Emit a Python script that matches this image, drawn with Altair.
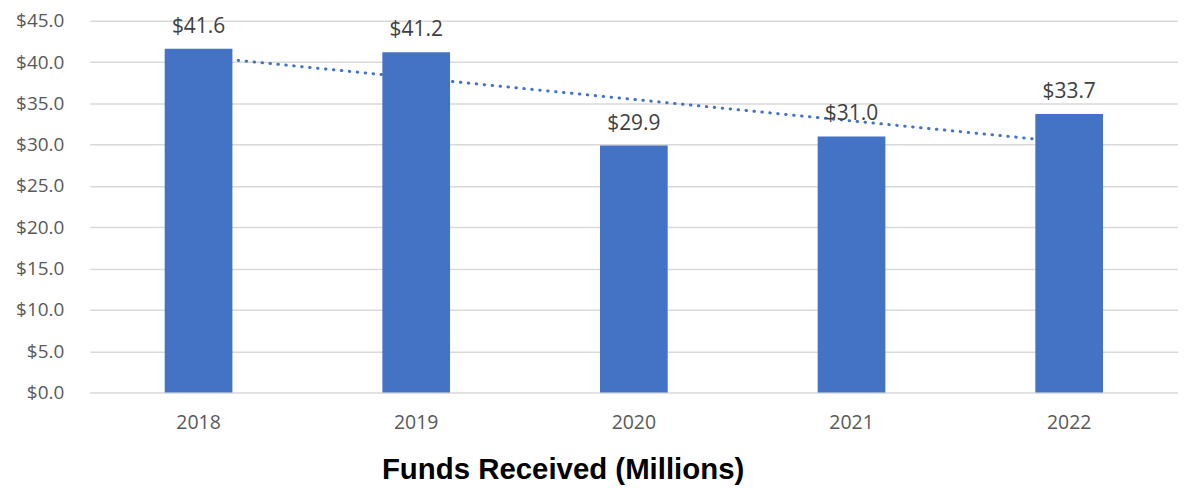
import altair as alt
import pandas as pd

years = [2018, 2019, 2020, 2021, 2022]
funds = [41.6, 41.2, 29.9, 31.0, 33.7]

df = pd.DataFrame({"year": years, "funds": funds})

BLUE = "#4472C4"
FONT = "Open Sans"

base = alt.Chart(df)

x_enc = alt.X(
    "year:O",
    scale=alt.Scale(paddingInner=0.689, paddingOuter=0.3445),
    axis=alt.Axis(
        title=None, labelAngle=0, ticks=False, domain=False,
        labelFont=FONT, labelFontSize=19.5, labelColor="#595959", labelPadding=21,
    ),
)
y_enc = alt.Y(
    "funds:Q",
    scale=alt.Scale(domain=[0, 45]),
    axis=alt.Axis(
        title=None, values=[0, 5, 10, 15, 20, 25, 30, 35, 40, 45], format="$.1f",
        ticks=False, domain=False, gridColor="#d9d9d9", gridWidth=1.5,
        labelFont=FONT, labelFontSize=19, labelColor="#595959", labelPadding=26,
    ),
)

trend = base.transform_regression("year", "funds", method="linear").mark_line(
    color=BLUE, strokeWidth=3, strokeDash=[0.5, 7.5], strokeCap="round"
).encode(x=alt.X("year:O"), y=alt.Y("funds:Q"))

bars = base.mark_bar(color=BLUE).encode(x=x_enc, y=y_enc)

labels = base.mark_text(
    dy=-16, baseline="alphabetic", font=FONT, fontSize=21, color="#404040"
).encode(x="year:O", y="funds:Q", text=alt.Text("funds:Q", format="$.1f"))

chart = alt.layer(bars, trend, labels).properties(
    width=1092,
    height=373,
    padding={"left": 82, "top": 12, "right": 0, "bottom": 96},
    autosize=alt.AutoSizeParams(type="none"),
    title=alt.TitleParams(
        "Funds Received (Millions)", orient="bottom", anchor="middle",
        font="Liberation Sans", fontSize=29.5, fontWeight="bold", color="#000000",
        offset=24, dx=-71,
    ),
).configure_view(stroke=None)

chart.save("out.html", embed_options={"renderer": "svg", "actions": False})
